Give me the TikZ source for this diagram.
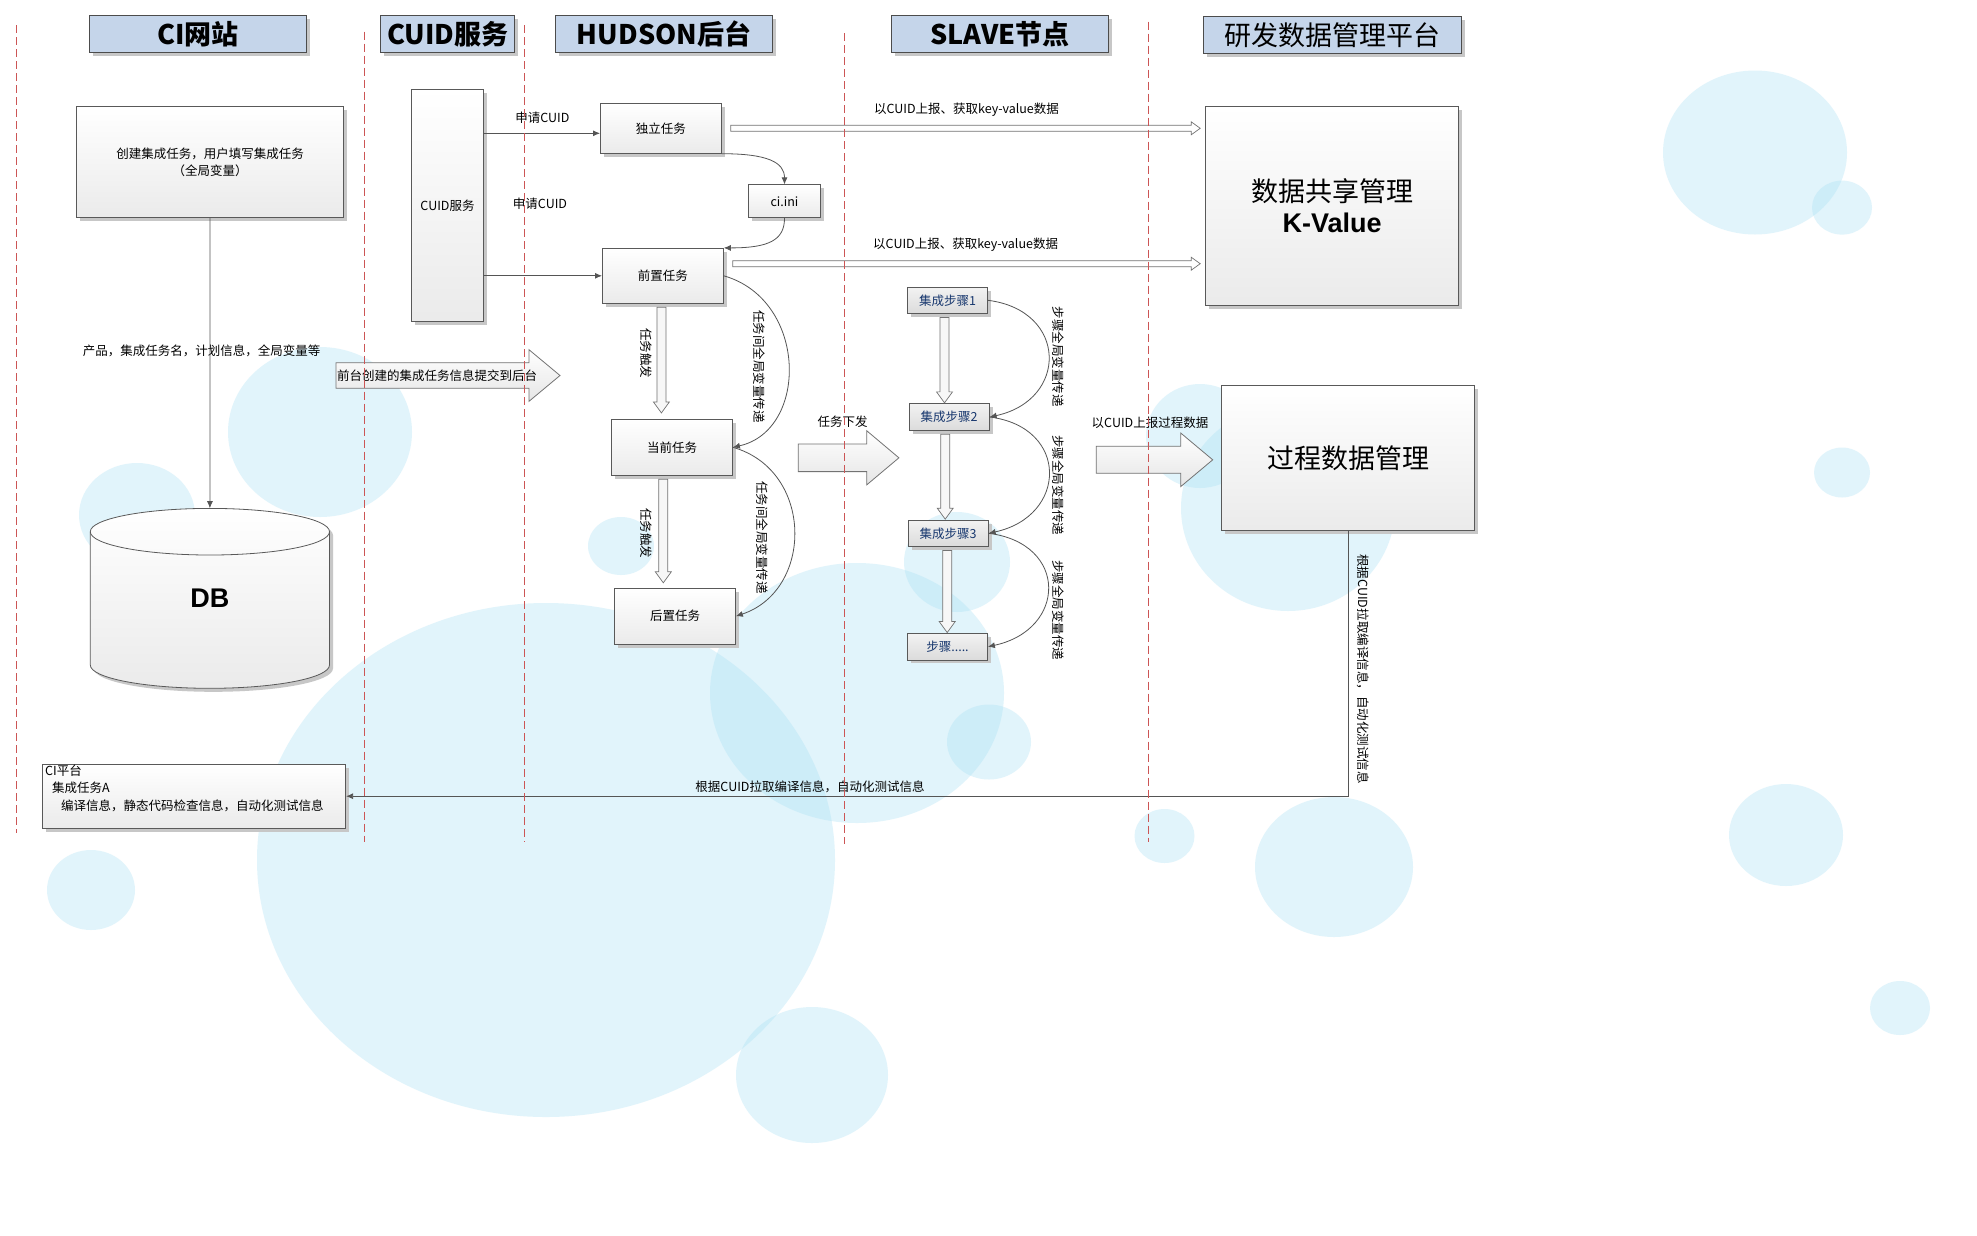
\documentclass[tikz,border=0pt]{standalone}
\usepackage{fontspec}
\setmainfont{Noto Sans CJK SC}
\newfontfamily\arialfont{Liberation Sans}
\usetikzlibrary{calc}
\usetikzlibrary{shadows}
\usetikzlibrary{arrows.meta}

\definecolor{hdrblue}{RGB}{197,213,234}
\definecolor{lanered}{RGB}{204,85,85}
\definecolor{bubble}{RGB}{170,225,245}
\definecolor{stepblue}{RGB}{23,55,110}
\definecolor{linegray}{RGB}{85,85,85}

\begin{document}
\begin{tikzpicture}[x=1pt, y=-1pt,
        shade/.style={drop shadow={shadow xshift=3.5pt, shadow yshift=-3.5pt, fill=black!22, opacity=1}},
        hdr/.style={draw=black!70, line width=0.8pt, fill=hdrblue, shade, minimum height=37, inner sep=0pt,
            font=\fontsize{27}{30}\selectfont\bfseries},
        box/.style={draw=black!65, line width=0.8pt, top color=white, bottom color=black!8, shade,
            inner sep=0pt, font=\fontsize{12.5}{17.3}\selectfont},
        stepbox/.style={box, top color=black!5, bottom color=black!14, text=stepblue,
            minimum width=80, minimum height=26.5},
        lbl/.style={inner sep=0pt, font=\fontsize{12.5}{15}\selectfont},
        lane/.style={draw=lanered, line width=1pt, dash pattern=on 8pt off 4pt},
        conn/.style={draw=linegray, line width=0.8pt, -{Latex[length=7pt,width=6pt]}},
        hollow/.style={draw=black!55, fill=black!3, line width=0.7pt},
        blockarrow/.style={draw=black!55, line width=0.8pt, top color=white, bottom color=black!10},
        bub/.style={fill=bubble, opacity=0.35}
    ]

    \fill[white] (0,0) rectangle (1977,1235);
    \useasboundingbox (0,0) rectangle (1977,1235);

    % background bubbles
    \foreach \bx/\by/\rx/\ry in {1755/152.5/92/82, 1842/207.6/30/27, 1842/472.5/28/25,
        1786/835/57/51, 1900/1008/30/27, 1334/867/79/70, 1164.5/836/30/27,
        1288/508/107/103, 1200/436/54/52, 857/693/147/130, 546/860/289/257,
        812/1075/76/68, 91/890/44/40, 320/432/92/85, 137/515/58/52,
        621/546/33/29, 957/562/53/50, 989/742/42/37.5}
        \fill[bub] (\bx,\by) ellipse [x radius=\rx pt, y radius=\ry pt];

    % lane headers
    \node[hdr, minimum width=217] (h1) at (198,33.8) {CI网站};
    \node[hdr, minimum width=134] (h2) at (447.8,33.8) {CUID服务};
    \node[hdr, minimum width=217] (h3) at (664.1,33.8) {HUDSON后台};
    \node[hdr, minimum width=217] (h4) at (1000,33.8) {SLAVE节点};
    \node[hdr, minimum width=258, font=\fontsize{27}{30}\selectfont] (h5) at (1332.4,35) {研发数据管理平台};

    % boxes
    \node[box, minimum width=267, minimum height=111, align=center] (cj) at (210,162.2)
        {创建集成任务，用户填写集成任务\\（全局变量）};
    \node[box, minimum width=72, minimum height=232] (cuid) at (447.5,205.3) {CUID服务};
    \node[box, minimum width=121, minimum height=50] (dl) at (660.9,128.3) {独立任务};
    \node[box, minimum width=72, minimum height=33] (ci) at (784.5,201.3) {ci.ini};
    \node[box, minimum width=121, minimum height=55] (qz) at (662.9,275.8) {前置任务};
    \node[box, minimum width=121, minimum height=56] (dq) at (672,447.3) {当前任务};
    \node[box, minimum width=121, minimum height=56] (hz) at (675,616.2) {后置任务};
    \node[stepbox] (s1) at (947.5,300.3) {集成步骤1};
    \node[stepbox] (s2) at (949.2,417) {集成步骤2};
    \node[stepbox] (s3) at (948.2,533.3) {集成步骤3};
    \node[stepbox] (s4) at (947.5,646.7) {步骤.....};
    \node[box, minimum width=253, minimum height=199, align=center, font=\fontsize{27}{31}\selectfont] (kv)
        at (1332.1,205.9) {数据共享管理\\{\arialfont\bfseries K-Value}};
    \node[box, minimum width=253, minimum height=145, font=\fontsize{27}{30}\selectfont] (gc)
        at (1348,458) {过程数据管理};
    \node[box, minimum width=303, minimum height=64] (ciplat) at (194.2,796.2) {};
    \node[lbl, anchor=north west, align=left, font=\fontsize{12.5}{17.4}\selectfont] (citxt) at (45,764.5)
        {CI平台\\\hspace{7pt}集成任务A\\\hspace{16pt}编译信息，静态代码检查信息，自动化测试信息};

    % DB
    \draw[box] (90.3,531.7) -- (90.3,665)
        arc[start angle=180, end angle=360, x radius=119.6pt, y radius=23.3pt] -- (329.5,531.7)
        arc[start angle=0, end angle=180, x radius=119.6pt, y radius=23.3pt] -- cycle;
    \draw[draw=black!65, line width=0.8pt] (90.3,531.7)
        arc[start angle=180, end angle=360, x radius=119.6pt, y radius=23.3pt];
    \node[minimum width=239, minimum height=180, inner sep=0pt,
        font=\fontsize{27}{30}\selectfont\arialfont\bfseries] (db) at (209.9,598.4) {DB};

    % labels
    \node[lbl] (sq1) at (542.4,117.3) {申请CUID};
    \node[lbl] (sq2) at (540,203.3) {申请CUID};
    \node[lbl] (cp) at (201.5,351) {产品，集成任务名，计划信息，全局变量等};
    \node[lbl] (kv1) at (966.5,110) {以CUID上报、获取key-value数据};
    \node[lbl] (kv2) at (965.6,245) {以CUID上报、获取key-value数据};
    \node[lbl] (xf) at (842.5,421.7) {任务下发};
    \node[lbl] (sb) at (1150,422.7) {以CUID上报过程数据};
    \node[lbl] (lq) at (810,786.7) {根据CUID拉取编译信息，自动化测试信息};
    \node[lbl, rotate=-90] (lq2) at (1363,669) {根据CUID拉取编译信息，自动化测试信息};
    \node[lbl, rotate=-90] (cf1) at (646,353.3) {任务触发};
    \node[lbl, rotate=-90] (cf2) at (646,533.3) {任务触发};
    \node[lbl, rotate=-90] (qj1) at (759.6,366.7) {任务间全局变量传递};
    \node[lbl, rotate=-90] (qj2) at (762,537.5) {任务间全局变量传递};
    \foreach \i/\yy in {1/356.7, 2/485, 3/610}
        \node[lbl, rotate=-90] (bz\i) at (1058.5,\yy) {步骤全局变量传递};

    % block arrows
    \foreach \ax/\bx/\tx/\cy/\bw/\hw in {336/529/560/375.5/12.8/25.8,
        798.2/866.8/898.9/457.8/13.8/27, 1096.3/1180.7/1212.7/459.8/13.5/26.8}
        \draw[blockarrow] (\ax,\cy-\bw) -- (\bx,\cy-\bw) -- (\bx,\cy-\hw) -- (\tx,\cy)
            -- (\bx,\cy+\hw) -- (\bx,\cy+\bw) -- (\ax,\cy+\bw) -- cycle;
    \node[lbl, anchor=west] (tj) at (337,375.5) {前台创建的集成任务信息提交到后台};

    % key-value arrows
    \foreach \src/\dy in {dl/0, qz/-12.1}
        \draw[hollow, fill=white] let \p1=($(\src.east)+(9,\dy)$), \p2=(kv.west) in
            (\x1,\y1+3pt) -- (\x2-14pt,\y1+3pt) -- (\x2-14pt,\y1+6.5pt) -- (\x2-5pt,\y1)
            -- (\x2-14pt,\y1-6.5pt) -- (\x2-14pt,\y1-3pt) -- (\x1,\y1-3pt) -- cycle;

    % trigger arrows
    \foreach \src/\dst/\gap/\dx in {qz/dq/6/-1.5, dq/hz/5/-8.7, s1/s2/0.5/-3, s2/s3/0.5/-4, s3/s4/0.5/-1}
        \draw[hollow] let \p1=($(\src.south)+(\dx,3.5)$), \p2=($(\dst.north)+(0,-\gap)$) in
            (\x1-4.5pt,\y1) -- (\x1-4.5pt,\y2+11pt) -- (\x1-8pt,\y2+11pt) -- (\x1,\y2)
            -- (\x1+8pt,\y2+11pt) -- (\x1+4.5pt,\y2+11pt) -- (\x1+4.5pt,\y1) -- cycle;

    % connectors
    \coordinate (a1) at ($(cuid.east |- dl.west)+(0,5)$);
    \draw[conn] (a1) -- (a1 -| dl.west);
    \draw[conn] (cuid.east |- qz.west) -- (qz.west);
    \draw[conn] (cj.south) -- (db.north);
    \draw[conn] (gc.south) |- (ciplat.east);
    \draw[conn] (dl.south east) .. controls +(46,0) and +(0,-22) .. (ci.north);
    \draw[conn] (ci.south) .. controls +(0,22) and +(45,0) .. (qz.north east);
    \draw[conn] (qz.east) .. controls +(84,24) and +(76,-17) .. (dq.east);
    \draw[conn] (dq.east) .. controls +(81,23) and +(78,-26) .. (hz.east);
    \foreach \src/\dst in {s1/s2, s2/s3, s3/s4}
        \draw[conn] (\src.east) .. controls +(80,10) and +(79,-17) .. (\dst.east);

    % swim lanes
    \foreach \lx/\ly/\lb in {16.5/25/833, 364/31.7/841.7, 524/25/841.7, 844/33/844, 1148.7/21.7/841.7}
        \draw[lane] (\lx,\ly) -- (\lx,\lb);
\end{tikzpicture}
\end{document}
